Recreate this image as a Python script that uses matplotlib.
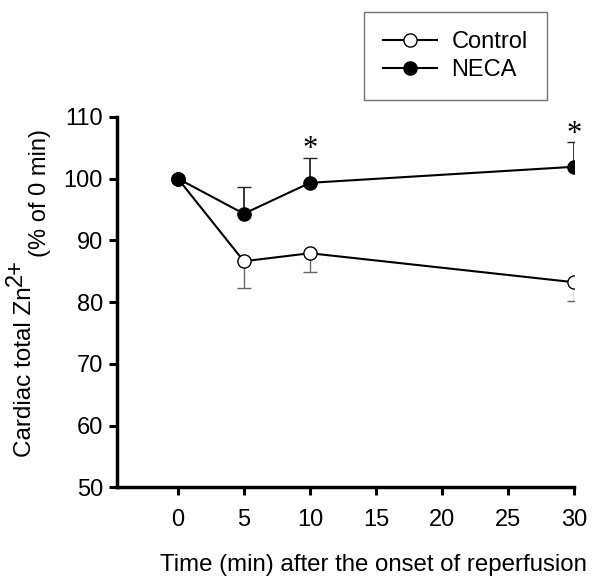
import numpy as np
import matplotlib
matplotlib.use("Agg")
from matplotlib import pyplot as plt

plt.rcParams['font.family'] = ['Liberation Sans', 'DejaVu Sans']

# time points (min)
time = [0, 5, 10, 30]
# Control (open circles), error bars drawn downward
control_mean = [100, 86.6, 87.9, 83.2]
control_se = [0, 4.4, 3.0, 3.1]
# NECA (filled circles), error bars drawn upward
neca_mean = [100, 94.3, 99.3, 101.9]
neca_se = [0, 4.3, 4.1, 4.0]
# significance marks
star_idx = [2, 3]

x_ticks = [0, 5, 10, 15, 20, 25, 30]
y_ticks = [50, 60, 70, 80, 90, 100, 110]

fig = plt.figure(figsize=(6.0, 5.78), dpi=100)
ax = fig.add_axes([0.195, 0.157, 0.762, 0.641])

zeros = [0] * len(time)
ax.errorbar(time, control_mean, yerr=[control_se, zeros], fmt='none',
            ecolor='0.4', elinewidth=1.0, capsize=5, capthick=1.0, zorder=2)
ax.errorbar(time, neca_mean, yerr=[zeros, neca_se], fmt='none',
            ecolor='0.15', elinewidth=1.3, capsize=5, capthick=1.0, zorder=2)

ax.plot(time, control_mean, color='black', lw=1.5, marker='o', ms=9.5,
        mfc='white', mec='black', mew=1.0, label='Control', zorder=3)
ax.plot(time, neca_mean, color='black', lw=1.5, marker='o', ms=9.5,
        mfc='black', mec='black', label='NECA', zorder=4)

for i in star_idx:
    ax.text(time[i], neca_mean[i] + neca_se[i] + 1.3, '*', ha='center', va='center',
            fontsize=22, family='Liberation Serif')

ax.set_xlim(-4.6, 30)
ax.set_ylim(50, 110)
ax.set_xticks(x_ticks)
ax.set_yticks(y_ticks)
ax.tick_params(axis='both', direction='out', length=6, width=2.2, labelsize=17, pad=4)
ax.tick_params(axis='x', pad=10)
for s in ['top', 'right']:
    ax.spines[s].set_visible(False)
for s in ['left', 'bottom']:
    ax.spines[s].set_linewidth(2.5)

fig.text(0.622, 0.004, 'Time (min) after the onset of reperfusion', ha='center',
         va='bottom', fontsize=17.3)

# y label built from pieces
fig.text(0.042, 0.209, 'Cardiac total Zn', rotation=90, ha='center', va='bottom', fontsize=17.5)
fig.text(0.027, 0.552, '2+', rotation=90, ha='center', va='top', fontsize=17)
fig.text(0.066, 0.555, '(% of 0 min)', rotation=90, ha='center', va='bottom', fontsize=17)

leg = fig.legend(loc='upper left', bbox_to_anchor=(0.607, 0.979), fontsize=17,
                 frameon=True, fancybox=False, edgecolor='0.3', handlelength=2.3,
                 handletextpad=0.6, labelspacing=0.25, borderpad=0.8,
                 borderaxespad=0)
leg.get_frame().set_linewidth(1.0)

fig.savefig('out.png', dpi=100)
